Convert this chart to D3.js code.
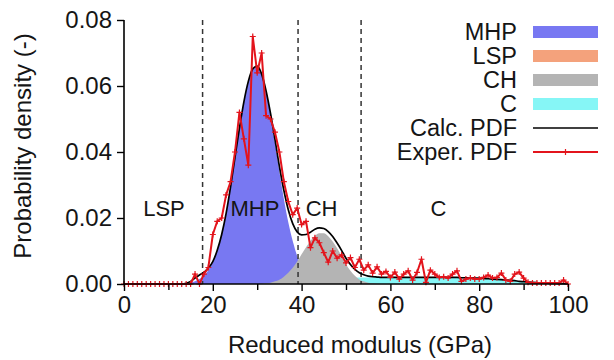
<!DOCTYPE html>
<html><head><meta charset="utf-8">
<script src="https://cdn.jsdelivr.net/npm/d3@7/dist/d3.min.js"></script>
<style>
html,body{margin:0;padding:0;background:#fff;}
text{font-family:"Liberation Sans",Arial,Helvetica,sans-serif;fill:#151515;}
</style></head>
<body><svg id="c" width="614" height="360"></svg>
<script>
// ---------- data ----------
const xTicks = [0, 20, 40, 60, 80, 100];
const xMinorTicks = [10, 30, 50, 70, 90];
const yTicks = [0, 0.02, 0.04, 0.06, 0.08];
const yTickLabels = ["0.00", "0.02", "0.04", "0.06", "0.08"];
const boundaries = [17.7, 39.2, 53.4];
const regionNames = ["LSP", "MHP", "CH", "C"];
const regionCenters = [9, 29.5, 44.5, 70.8];
const legendNames = ["MHP", "LSP", "CH", "C", "Calc. PDF", "Exper. PDF"];

const mhpX = [14,15,16,17,18,19,20,21,22,23,24,25,26,27,28,29,30,31,32,33,34,35,36,37,38,39,40,41,42,43,44,45,46];
const mhpY = [0,0.0004,0.0008,0.0015,0.0026,0.0042,0.0066,0.0100,0.0148,0.0212,0.0292,0.0382,0.0470,0.0550,0.0612,0.0650,0.0658,0.0634,0.0582,0.0510,0.0427,0.0340,0.0258,0.0187,0.0130,0.0085,0.0054,0.0032,0.0018,0.0010,0.0005,0.0002,0];

const lspX = [10, 15, 20];
const lspY = [0, 0, 0];

const chX = [30,31,32,33,34,35,36,37,38,39,40,41,42,43,44,45,46,47,48,49,50,51,52,53,54,55,56,57,58];
const chY = [0,0.0001,0.0002,0.0004,0.0008,0.0013,0.0022,0.0034,0.0049,0.0068,0.0090,0.0111,0.0131,0.0146,0.0154,0.0154,0.0145,0.0129,0.0108,0.0085,0.0060,0.0040,0.0025,0.0014,0.0008,0.0004,0.0002,0.0001,0];

const cX = [38,40,42,44,46,48,50,52,54,56,58,60,62,64,66,68,70,72,74,76,78,80,82,84,86,88,90,92,94,96,98,100];
const cY = [0,0.0005,0.0008,0.0011,0.0014,0.0016,0.0018,0.0019,0.0020,0.0020,0.0020,0.0020,0.0020,0.0020,0.0020,0.0020,0.0020,0.0020,0.0020,0.0019,0.0019,0.0018,0.0016,0.0014,0.0012,0.0010,0.0007,0.0005,0.0003,0.0002,0.0001,0];

const calcX = d3.range(0, 101);
const calcY = [0,0,0,0,0,0,0,0,0,0,0,0,0,0,0.0002,0.0008,0.0018,0.0027,0.0035,0.0048,
0.0068,0.0102,0.0150,0.0214,0.0294,0.0384,0.0472,0.0552,0.0614,0.0652,
0.0660,0.0636,0.0585,0.0517,0.0438,0.0356,0.0284,0.0225,0.0183,0.0158,
0.0149,0.0150,0.0157,0.0166,0.0170,0.0168,0.0159,0.0144,0.0124,0.0102,
0.0078,0.0059,0.0044,0.0034,0.0028,0.0024,0.0022,0.0021,0.0020,0.0020,
0.0020,0.0020,0.0020,0.0020,0.0020,0.0020,0.0020,0.0020,0.0020,0.0020,
0.0020,0.0020,0.0020,0.0020,0.0020,0.0020,0.0019,0.0019,0.0019,0.0018,
0.0018,0.0017,0.0016,0.0015,0.0014,0.0013,0.0012,0.0011,0.0010,0.0008,
0.0007,0.0006,0.0005,0.0004,0.0003,0.0003,0.0002,0.0002,0.0001,0.0001,0];

const expX = d3.range(0, 101);
const expY = [0,0,0,0,0,0,0,0,0,0,0,0,0,0,0,0,0.003,0,0.003,0.005,
0.015,0.019,0.020,0.027,0.031,0.040,0.052,0.044,0.036,0.075,
0.064,0.070,0.051,0.050,0.046,0.040,0.031,0.025,0.021,0.023,
0.018,0.019,0.011,0.014,0.0125,0.0095,0.0066,0.0100,0.0078,0.0088,
0.0064,0.0080,0.0050,0.0075,0.0042,0.0058,0.0033,0.0052,0.0030,0.0038,
0.0020,0.0036,0.0015,0.0030,0.0040,0.0012,0.0035,0.0075,0.0005,0.0042,
0.0030,0.0020,0.0022,0.0018,0.0030,0.0040,0.0008,0.0015,0.0018,0.0015,
0.0015,0.0020,0.0027,0.0018,0.0020,0.0033,0.0012,0.0008,0.0030,0.0036,
0.0018,0.0005,0.0003,0.0003,0.0003,0.0003,0.0003,0.0003,0.0003,0.0012,0];

// ---------- styles ----------
const colMHP = "#7878f2", colLSP = "#f4a27c", colCH = "#b4b4b4", colC = "#86f6f6";
const colExp = "#e3141c";

const svg = d3.select("#c");
const x = d3.scaleLinear().domain([0, 100]).range([124, 568]);
const y = d3.scaleLinear().domain([0, 0.08]).range([284, 20]);

function zip(xs, ys){ return xs.map((v,i)=>[v, ys[i]]); }
const area = d3.area().x(d=>x(d[0])).y0(y(0)).y1(d=>y(d[1])).curve(d3.curveMonotoneX);
const line = d3.line().x(d=>x(d[0])).y(d=>y(d[1])).curve(d3.curveMonotoneX);
const lineLin = d3.line().x(d=>x(d[0])).y(d=>y(d[1]));

svg.append("path").attr("d", area(zip(cX, cY))).attr("fill", colC);
svg.append("path").attr("d", area(zip(lspX, lspY))).attr("fill", colLSP);
svg.append("path").attr("d", area(zip(mhpX, mhpY))).attr("fill", colMHP);
svg.append("path").attr("d", area(zip(chX, chY))).attr("fill", colCH);

// dashed boundaries
svg.selectAll("line.b").data(boundaries).enter().append("line")
  .attr("x1", d=>x(d)).attr("x2", d=>x(d)).attr("y1", y(0.08)).attr("y2", y(0))
  .attr("stroke", "#333").attr("stroke-width", 1.5).attr("stroke-dasharray", "5,4");

// calc pdf
svg.append("path").attr("d", line(zip(calcX, calcY))).attr("fill", "none")
  .attr("stroke", "#000").attr("stroke-width", 1.7);

// exp pdf
const expPts = zip(expX, expY);
svg.append("path").attr("d", lineLin(expPts)).attr("fill", "none")
  .attr("stroke", colExp).attr("stroke-width", 2).attr("stroke-linejoin", "round");
const plus = "M-3,0H3M0,-3V3";
svg.selectAll("path.m").data(expPts).enter().append("path")
  .attr("d", plus).attr("transform", d=>`translate(${x(d[0])},${y(d[1])})`)
  .attr("stroke", colExp).attr("stroke-width", 1.2).attr("fill", "none");

// axes
const fs = 24;
const xAxis = d3.axisBottom(x).tickValues(xTicks).tickSize(7).tickPadding(5).tickFormat(d3.format("d"));
const gx = svg.append("g").attr("transform", `translate(0,${y(0)})`).call(xAxis);
const gxm = svg.append("g").attr("transform", `translate(0,${y(0)})`)
  .call(d3.axisBottom(x).tickValues(xMinorTicks).tickSize(6).tickFormat(""));
gxm.select(".domain").remove();
const yAxis = d3.axisLeft(y).tickValues(yTicks).tickSize(7).tickPadding(5).tickFormat((d,i)=>yTickLabels[i]);
const gy = svg.append("g").attr("transform", `translate(${x(0)},0)`).call(yAxis);
[gx, gxm, gy].forEach(g=>{
  g.select(".domain").attr("stroke", "#000").attr("stroke-width", 1.6);
  g.selectAll(".tick line").attr("stroke", "#000").attr("stroke-width", 1.4);
  g.selectAll(".tick text").attr("font-size", fs).attr("font-family", "Liberation Sans, Arial, sans-serif").attr("fill", "#151515");
});
gx.select(".domain").attr("d", `M${x(0)},0H${x(100)}`);
gy.select(".domain").attr("d", `M0,${y(0.08)}V${y(0)}`);

// axis titles
svg.append("text").attr("x", 360).attr("y", 353).attr("text-anchor", "middle")
  .attr("font-size", 24).text("Reduced modulus (GPa)");
svg.append("text").attr("transform", "translate(31,146) rotate(-90)").attr("text-anchor", "middle")
  .attr("font-size", 24).text("Probability density (-)");

// region labels
svg.selectAll("text.r").data(regionNames).enter().append("text")
  .attr("x", (d,i)=>x(regionCenters[i])).attr("y", 216).attr("text-anchor", "middle")
  .attr("font-size", 22).text(d=>d);

// legend
const legY = [32, 56, 80, 104, 128, 152];
const legCols = [colMHP, colLSP, colCH, colC];
const lg = svg.append("g");
legendNames.forEach((n, i)=>{
  lg.append("text").attr("x", 517).attr("y", legY[i] + 8).attr("text-anchor", "end")
    .attr("font-size", 23.5).text(n);
  if (i < 4) {
    lg.append("rect").attr("x", 533).attr("y", legY[i] - 6).attr("width", 65).attr("height", 12).attr("fill", legCols[i]);
  } else if (i === 4) {
    lg.append("line").attr("x1", 533).attr("x2", 598).attr("y1", legY[i]).attr("y2", legY[i]).attr("stroke", "#000").attr("stroke-width", 1.6);
  } else {
    lg.append("line").attr("x1", 533).attr("x2", 598).attr("y1", legY[i]).attr("y2", legY[i]).attr("stroke", colExp).attr("stroke-width", 1.8);
    lg.append("path").attr("d", plus).attr("transform", `translate(565.5,${legY[i]})`).attr("stroke", colExp).attr("stroke-width", 1.2);
  }
});
</script></body></html>
